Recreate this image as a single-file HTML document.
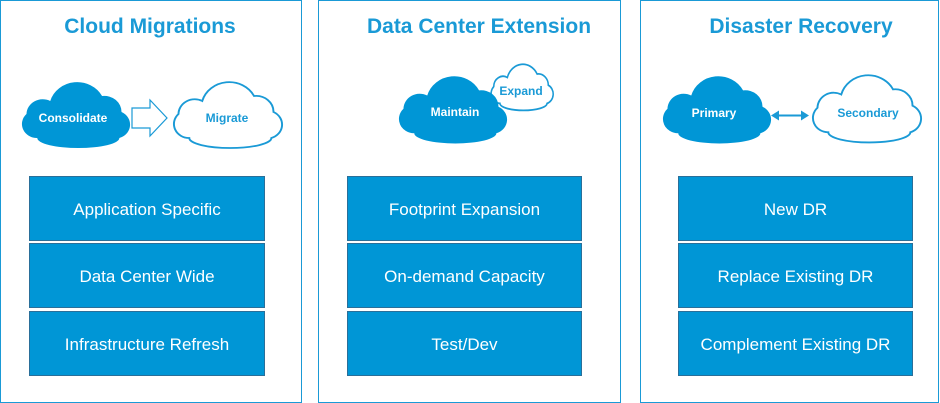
<!DOCTYPE html>
<html><head><style>
body{margin:0;width:940px;height:403px;background:#fff;position:relative;overflow:hidden;font-family:"Liberation Sans",sans-serif}
.p{position:absolute;top:0;border:1.5px solid #1a9ad6;box-sizing:border-box;height:403px}
.t{position:absolute;top:15px;font-size:21px;font-weight:bold;color:#1a9ad6;text-align:center;width:320px}
.b{position:absolute;height:65px;background:#0096d6;border:1px solid #2a6f99;box-sizing:border-box;color:#fff;font-size:17px;display:flex;align-items:center;justify-content:center;padding-top:3px}
svg{position:absolute;left:0;top:0}
</style></head><body>
<div class="p" style="left:0;width:302px"></div>
<div class="p" style="left:318px;width:303px"></div>
<div class="p" style="left:640px;width:299px"></div>
<div class="t" style="left:-10px">Cloud Migrations</div>
<div class="t" style="left:319px">Data Center Extension</div>
<div class="t" style="left:641px">Disaster Recovery</div>

<div class="b" style="left:29px;top:176px;width:236px">Application Specific</div>
<div class="b" style="left:29px;top:243px;width:236px">Data Center Wide</div>
<div class="b" style="left:29px;top:311px;width:236px">Infrastructure Refresh</div>
<div class="b" style="left:347px;top:176px;width:235px">Footprint Expansion</div>
<div class="b" style="left:347px;top:243px;width:235px">On-demand Capacity</div>
<div class="b" style="left:347px;top:311px;width:235px">Test/Dev</div>
<div class="b" style="left:678px;top:176px;width:235px">New DR</div>
<div class="b" style="left:678px;top:243px;width:235px">Replace Existing DR</div>
<div class="b" style="left:678px;top:311px;width:235px">Complement Existing DR</div>

<svg width="940" height="403" viewBox="0 0 940 403">
<defs>
<path id="c" d="M16,62 A14,14 0 0 1 6,38 A15,15 0 0 1 28,25 A26,26 0 0 1 76,20 A16,16 0 0 1 94,36 A14,14 0 0 1 92,62 A38,10 0 0 1 16,62 Z"/>
</defs>
<g font-family="Liberation Sans, sans-serif" font-weight="bold" font-size="12" text-anchor="middle">
<use href="#c" transform="translate(20,76) scale(1.08,1.0)" fill="#0096d6"/>
<text x="73" y="122" fill="#fff">Consolidate</text>
<polygon points="132,108 150,108 150,100 167,118 150,136 150,128 132,128" fill="#fff" stroke="#1a9ad6" stroke-width="1.2"/>
<use href="#c" transform="translate(172,76) scale(1.08,1.0)" fill="#fff" stroke="#1a9ad6" stroke-width="1.8"/>
<text x="227" y="122" fill="#1a9ad6">Migrate</text>

<use href="#c" transform="translate(490,60) scale(0.62,0.7)" fill="#fff" stroke="#1a9ad6" stroke-width="2.5"/>
<text x="521" y="95" fill="#1a9ad6">Expand</text>
<use href="#c" transform="translate(397,70) scale(1.08,1.02)" fill="#0096d6"/>
<text x="455" y="116" fill="#fff">Maintain</text>

<use href="#c" transform="translate(661,70) scale(1.08,1.02)" fill="#0096d6"/>
<text x="714" y="117" fill="#fff">Primary</text>
<line x1="776" y1="115.5" x2="804" y2="115.5" stroke="#1a9ad6" stroke-width="2"/>
<polygon points="771,115.5 779,110.5 779,120.5" fill="#1a9ad6"/>
<polygon points="809,115.5 801,110.5 801,120.5" fill="#1a9ad6"/>
<use href="#c" transform="translate(811,69) scale(1.08,1.02)" fill="#fff" stroke="#1a9ad6" stroke-width="1.8"/>
<text x="868" y="117" fill="#1a9ad6">Secondary</text>
</g>
</svg>
</body></html>
